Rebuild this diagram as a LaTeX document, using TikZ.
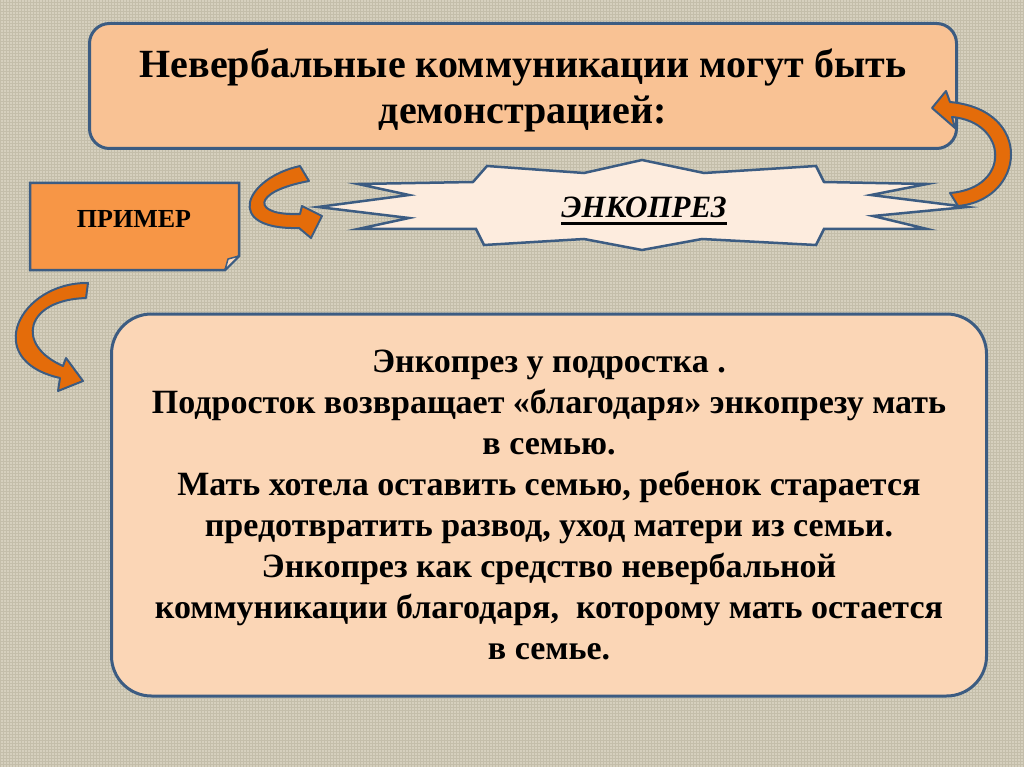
\documentclass[tikz,border=0pt]{standalone}
\usepackage{fontspec}
\setmainfont{Liberation Serif}
\usetikzlibrary{positioning,patterns}

\definecolor{canvas}{RGB}{214,208,190}
\definecolor{weave}{RGB}{196,190,170}
\definecolor{edgeblue}{RGB}{60,92,130}
\definecolor{peach}{RGB}{249,194,148}
\definecolor{lightpeach}{RGB}{251,214,182}
\definecolor{orangebox}{RGB}{247,150,70}
\definecolor{pale}{RGB}{253,236,222}
\definecolor{arroworange}{RGB}{228,108,10}

\tikzset{
  frame/.style={draw=edgeblue, line width=3pt, align=center},
  bent/.style={fill=arroworange, draw=edgeblue, line width=2pt, line join=round},
}

\begin{document}
\begin{tikzpicture}[x=1pt,y=-1pt]
\useasboundingbox (0,0) rectangle (1024,767);
\fill[canvas] (0,0) rectangle (1024,767);
\fill[pattern=grid, pattern color=weave] (0,0) rectangle (1024,767);

% title box
\node[frame, fill=peach, rounded corners=20pt, minimum width=867pt, minimum height=125pt,
  text depth=-5pt, font=\fontsize{40}{46}\selectfont\bfseries] (title) at (523,86)
  {Невербальные коммуникации могут быть\\демонстрацией:};

% example tag with folded corner
\draw[frame, fill=orangebox, line width=2.5pt] (30,183) -- (239,183) -- (239,256) -- (225,270) -- (30,270) -- cycle;
\draw[draw=edgeblue, line width=1.5pt, fill=orangebox!35!white, line join=round] (239,256) -- (225,270) -- (228,259) -- cycle;
\node[font=\fontsize{26}{30}\selectfont\bfseries] (tag) at (134,219) {ПРИМЕР};

% banner
\draw[draw=edgeblue, line width=2.5pt, fill=pale, line join=miter]
  (318,207) -- (409,195) -- (358,184) -- (473,182) -- (487,166) -- (584,173)
  -- (642,160) -- (704,173) -- (816,166) -- (824,182) -- (927,184) -- (871,195)
  -- (967,207) -- (873,216) -- (927,229) -- (824,229) -- (816,245) -- (702,239)
  -- (642,250) -- (584,239) -- (484,245) -- (476,229) -- (358,229) -- (409,218) -- cycle;
\node[inner sep=0pt, font=\fontsize{31}{36}\selectfont\bfseries\itshape] (term) at (644,207) {ЭНКОПРЕЗ};
\draw[line width=3pt] ([yshift=-6pt]term.base west) -- ([yshift=-6pt]term.base east);

% story box
\node[frame, fill=lightpeach, rounded corners=40pt, minimum width=875pt, minimum height=382pt,
  font=\fontsize{34}{41.1}\selectfont\bfseries] (story) at (549,505)
  {Энкопрез у подростка .\\
   Подросток возвращает «благодаря» энкопрезу мать\\
   в семью.\\
   Мать хотела оставить семью, ребенок старается\\
   предотвратить развод, уход матери из семьи.\\
   Энкопрез как средство невербальной\\
   коммуникации благодаря,\ \ которому мать остается\\
   в семье.};

% curved arrows
\draw[bent] (958,206) .. controls (1025,200) and (1035,110) .. (950,102) -- (946,91) -- (932,108)
  -- (955,128) -- (952,117) .. controls (1008,122) and (1012,188) .. (950,193) -- cycle;
\draw[bent] (300,166) .. controls (245,178) and (222,230) .. (299,228) -- (311,238) -- (322,216)
  -- (302,206) -- (300,214) .. controls (252,216) and (250,192) .. (309,181) -- cycle;
\draw[bent] (88,283) .. controls (20,282) and (-20,360) .. (60,378) -- (58,391) -- (83,381)
  -- (66,358) -- (63,366) .. controls (15,345) and (25,300) .. (86,298) -- cycle;
\end{tikzpicture}
\end{document}
